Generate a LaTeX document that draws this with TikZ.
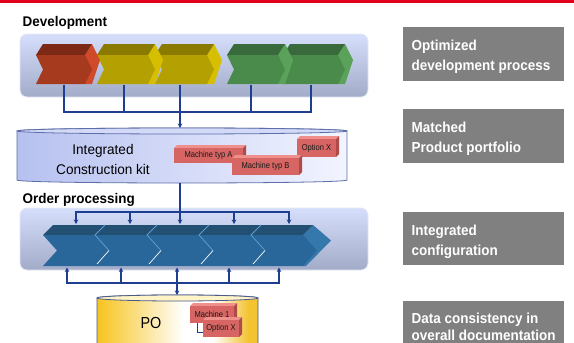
\documentclass[tikz,border=0pt]{standalone}
\usepackage{fontspec}
\setmainfont{Liberation Sans}
\newfontfamily\headfont[FakeStretch=0.96]{Liberation Sans}
\newfontfamily\kitfont[FakeStretch=0.97]{Liberation Sans}
\newfontfamily\boxfont[FakeStretch=0.93]{Liberation Sans}
\newfontfamily\smallfont[FakeStretch=0.88]{Liberation Sans}
\newfontfamily\pofont[FakeStretch=0.9]{Liberation Sans}
\usetikzlibrary{arrows.meta}
\definecolor{topred}{HTML}{E2001A}
\definecolor{panelT}{HTML}{D5DFFB}
\definecolor{panelB}{HTML}{A2ACC9}
\definecolor{panelE}{HTML}{E4E8F4}
\definecolor{connC}{HTML}{1E3F8F}
\definecolor{redF}{HTML}{A53A1E}
\definecolor{redT}{HTML}{7C2A15}
\definecolor{redS}{HTML}{CF4A2A}
\definecolor{yelF}{HTML}{B4A000}
\definecolor{yelT}{HTML}{8A7B00}
\definecolor{yelS}{HTML}{D6BF00}
\definecolor{grnF}{HTML}{4A8B4B}
\definecolor{grnT}{HTML}{386A3B}
\definecolor{grnS}{HTML}{5AA25A}
\definecolor{bluF}{HTML}{29679A}
\definecolor{bluT}{HTML}{224F72}
\definecolor{bluS}{HTML}{3478AC}
\definecolor{bluH}{HTML}{5C9BD0}
\definecolor{kitL}{HTML}{B6C1F0}
\definecolor{kitR}{HTML}{F2F4FF}
\definecolor{kitTop}{HTML}{D3DAF7}
\definecolor{kitE}{HTML}{5D6EA8}
\definecolor{poG1}{HTML}{F7C41E}
\definecolor{poG2}{HTML}{F3C332}
\definecolor{poTop}{HTML}{FFF4C8}
\definecolor{poE}{HTML}{4A5A8A}
\definecolor{rF}{HTML}{D66563}
\definecolor{rT}{HTML}{EE8F8C}
\definecolor{rS}{HTML}{B04A48}
\definecolor{rText}{HTML}{1A1A1A}
\definecolor{boxgray}{HTML}{808080}
\pgfdeclarehorizontalshading{poshade}{100bp}{color(0bp)=(poG1); color(25bp)=(poG1); color(52bp)=(white); color(61bp)=(white); color(72bp)=(poG2); color(100bp)=(poG2)}
\newcommand{\dchev}[5]{%
  \fill[#5] (#2,55) -- ({#2+7},44) -- ({#2+15},60) -- ({#2+7},84) -- (#2,84) -- cycle;
  \fill[#4] (#1,55) -- ({#1+7},44) -- ({#2+7},44) -- (#2,55) -- cycle;
  \fill[#3] (#1,55) -- (#2,55) -- ({#2+7},69.5) -- (#2,84) -- (#1,84) -- ({#1+7},69.5) -- cycle;}
\newcommand{\bchev}[1]{%
  \fill[bluS] ({#1+52},235) -- ({#1+62},225) -- ({#1+80},240.5) -- ({#1+55},266) -- ({#1+52},266) -- cycle;
  \fill[bluT] (#1,235) -- ({#1+10},225) -- ({#1+62},225) -- ({#1+52},235) -- cycle;
  \fill[bluF] (#1,235) -- ({#1+52},235) -- ({#1+66},250.5) -- ({#1+52},266) -- (#1,266) -- ({#1+14},250.5) -- cycle;}
\newcommand{\rbox}[6]{%
  \fill[rT] (#2,#3) -- ({#2+3},{#3-3}) -- ({#4+3},{#3-3}) -- (#4,#3) -- cycle;
  \fill[rS] (#4,#3) -- ({#4+3},{#3-3}) -- ({#4+3},{#5-3}) -- (#4,#5) -- cycle;
  \node[rfront, minimum width={(#4-#2)*1pt}, minimum height={(#5-#3)*1pt}] (#1) at ({(#2+#4)/2},{(#3+#5)/2}) {#6};}
\begin{document}
\begin{tikzpicture}[x=1pt,y=-1pt,
  panel/.style={rounded corners=7pt, top color=panelT, bottom color=panelB, draw=panelE, line width=0.8pt, inner sep=0},
  conn/.style={draw=connC, line width=1.2pt},
  arr/.style={-{Stealth[length=4.5pt,width=4.5pt]}},
  graybox/.style={fill=boxgray, draw=none, inner sep=0, anchor=north west, minimum width=161pt},
  rfront/.style={fill=rF, inner sep=0, text=rText, font=\smallfont\fontsize{8.6}{9}\selectfont},
  headtxt/.style={anchor=base west, inner sep=0, font=\headfont\bfseries\fontsize{14}{16}\selectfont},
  kittxt/.style={anchor=base, inner sep=0, font=\kitfont\fontsize{14}{16}\selectfont},
  boxtxt/.style={anchor=base west, inner sep=0, text=white, font=\boxfont\bfseries\fontsize{14.5}{16}\selectfont}]
\useasboundingbox (0,0) rectangle (574,343);
\fill[topred] (0,0) rectangle (574,2.5);

% Development
\node[headtxt] (devtitle) at (22.5,26.7) {Development};
\node[panel, minimum width=348pt, minimum height=63pt] (devpanel) at (194,65.5) {};
\dchev{283}{338}{grnF}{grnT}{grnS}
\dchev{227}{278}{grnF}{grnT}{grnS}
\dchev{155}{207}{yelF}{yelT}{yelS}
\dchev{97}{148}{yelF}{yelT}{yelS}
\dchev{36}{85}{redF}{redT}{redS}
\coordinate (dc1) at (64,84.5);
\coordinate (dc2) at (124,84.5);
\coordinate (dc3) at (180,84.5);
\coordinate (dc4) at (251,84.5);
\coordinate (dc5) at (311,84.5);
\coordinate (dj) at (180,112);
\foreach \i in {1,...,5} {\draw[conn] (dc\i) |- (dj);}

% Integrated construction kit
\path[left color=kitL, right color=kitR, draw=kitE, line width=0.8pt]
  (17,131) -- (17,180) .. controls (17,184) and (347,184) .. (347,180)
  -- (347,131) .. controls (347,127) and (17,127) .. (17,131) -- cycle;
\draw[fill=kitTop, draw=kitE, line width=0.8pt] (182,131) ellipse [x radius=165, y radius=3];
\coordinate (kittop) at (180,128);
\coordinate (kitbot) at (180,183);
\draw[conn,arr] (dj) -- (kittop);
\node[kittxt] (kit1) at (103,154.3) {Integrated};
\node[kittxt] (kit2) at (103,174) {Construction kit};
\rbox{mta}{174}{148}{243}{163}{Machine typ A}
\rbox{optx}{297}{139}{336}{157}{Option X}
\rbox{mtb}{232}{158}{299}{175}{Machine typ B}

% Order processing
\node[headtxt] (ordtitle) at (22.5,203.5) {Order processing};
\node[panel, minimum width=348pt, minimum height=62pt] (ordpanel) at (194,239) {};
\foreach \L in {43,95,147,199,251} {\bchev{\L}}
\foreach \L in {95,147,199,251} {
  \draw[bluH, line width=0.8pt] ({\L+10},225) -- (\L,235) -- ({\L+14},250.5);
  \draw[white, line width=0.7pt] ({\L+14},250.5) -- ({\L+2},264);
}
\coordinate (oj) at (180,212);
\coordinate (ot1) at (76,224);
\coordinate (ot2) at (130,224);
\coordinate (ot3) at (180,224);
\coordinate (ot4) at (234,224);
\coordinate (ot5) at (289,224);
\draw[conn] (kitbot) -- (oj);
\foreach \i in {1,...,5} {\draw[conn,arr] (oj) -| (ot\i);}
\coordinate (bj) at (177,283);
\coordinate (ob1) at (67,267.5);
\coordinate (ob2) at (121,267.5);
\coordinate (ob3) at (177,267.5);
\coordinate (ob4) at (229,267.5);
\coordinate (ob5) at (279,267.5);
\foreach \i in {1,...,5} {\draw[conn,arr] (bj) -| (ob\i);}

% PO
\path[shading=poshade, draw=poE, line width=0.8pt]
  (97,298) -- (97,350) -- (258,350) -- (258,298)
  .. controls (258,294) and (97,294) .. (97,298) -- cycle;
\draw[fill=poTop, draw=poE, line width=0.8pt] (177.5,298) ellipse [x radius=80.5, y radius=3];
\coordinate (potop) at (177,295);
\draw[conn,arr] (bj) -- (potop);
\node[anchor=base, inner sep=0, font=\pofont\fontsize{16}{18}\selectfont] (po) at (151,328.3) {PO};
\rbox{m1}{190}{306}{234}{323}{Machine 1}
\rbox{pox}{203}{320}{239}{337}{Option X}
\coordinate (m1b) at (197,323);
\coordinate (poxl) at (203,332);
\draw[connC, line width=0.8pt] (m1b) |- (poxl);

% Right boxes
\node[graybox, minimum height=54pt] (g1) at (403,27) {};
\node[graybox, minimum height=54pt] (g2) at (403,109) {};
\node[graybox, minimum height=53pt] (g3) at (403,212) {};
\node[graybox, minimum height=50pt] (g4) at (403,301) {};
\node[boxtxt] (g1a) at (411.5,50.8) {Optimized};
\node[boxtxt] (g1b) at (411.5,70.2) {development process};
\node[boxtxt] (g2a) at (411.5,132.5) {Matched};
\node[boxtxt] (g2b) at (411.5,152) {Product portfolio};
\node[boxtxt] (g3a) at (411.5,235.5) {Integrated};
\node[boxtxt] (g3b) at (411.5,255) {configuration};
\node[boxtxt] (g4a) at (411.5,323) {Data consistency in};
\node[boxtxt] (g4b) at (411.5,340) {overall documentation};
\end{tikzpicture}
\end{document}
